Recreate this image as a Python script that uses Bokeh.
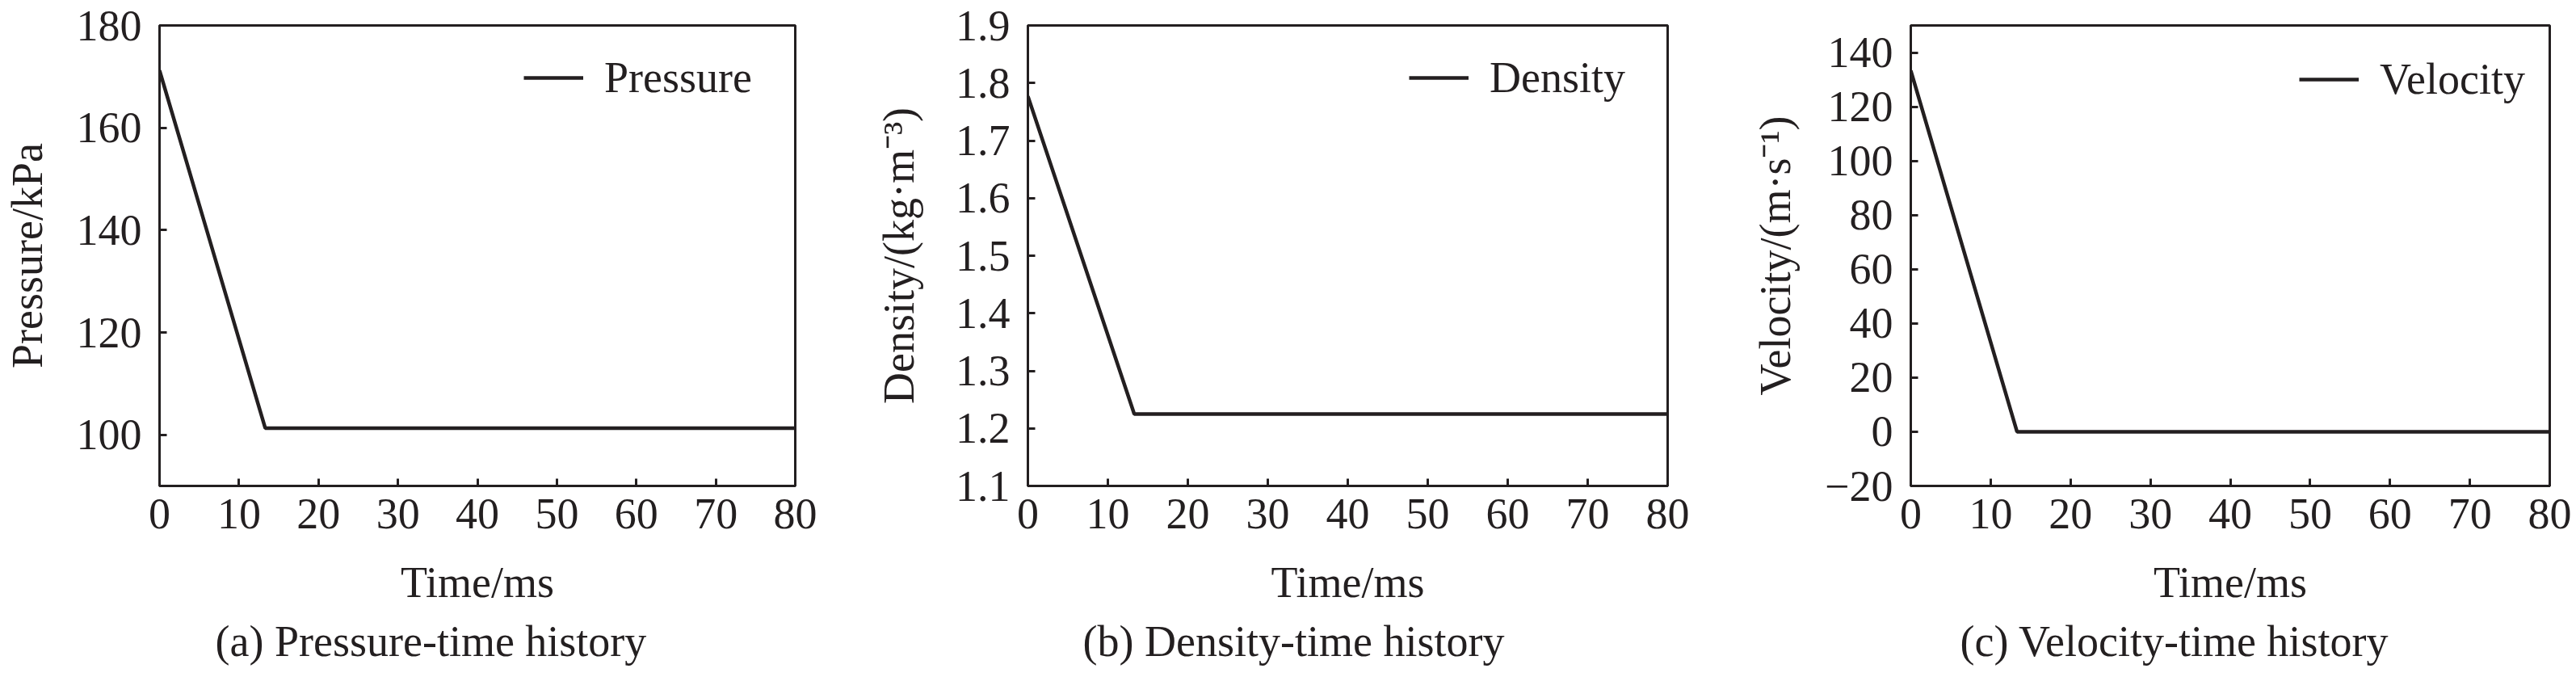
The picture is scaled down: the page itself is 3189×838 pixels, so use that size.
from bokeh.plotting import figure
from bokeh.layouts import row
from bokeh.models import FixedTicker, Legend, LegendItem, Title, PrintfTickFormatter, Range1d
from bokeh.embed import file_html
from bokeh.resources import INLINE

# ---- data ----
time_ms = [0, 13.3, 80]
pressure_kpa = [171.2, 101.3, 101.3]
density = [1.777, 1.225, 1.225]
velocity = [133.3, 0, 0]

x_ticks = [0, 10, 20, 30, 40, 50, 60, 70, 80]
p_ticks = [100, 120, 140, 160, 180]
d_ticks = [1.1, 1.2, 1.3, 1.4, 1.5, 1.6, 1.7, 1.8, 1.9]
v_ticks = [-20, 0, 20, 40, 60, 80, 100, 120, 140]

FONT = "Liberation Serif"
FS = "54px"
INK = "#231f20"
H = 836
TOP = 31
FRAME_H = 570


def make_panel(width, left, right, y, yrange, yticks, ylabel, ylab_standoff,
               name, caption, cap_offset, leg_x, leg_y, fmt=None, overrides=None):
    bottom = H - TOP - FRAME_H
    p = figure(width=width, height=H, output_backend="svg", toolbar_location=None,
               x_range=Range1d(0, 80), y_range=Range1d(*yrange),
               min_border_left=left, min_border_right=right,
               min_border_top=TOP, min_border_bottom=bottom)
    p.grid.visible = False
    p.outline_line_color = INK
    p.outline_line_width = 3
    p.background_fill_color = "white"
    p.border_fill_color = "white"

    r = p.line(time_ms, y, line_color=INK, line_width=4.5)

    for ax in (p.xaxis[0], p.yaxis[0]):
        ax.axis_line_color = INK
        ax.axis_line_width = 3
        ax.major_tick_line_color = INK
        ax.major_tick_line_width = 3
        ax.major_tick_in = 9
        ax.major_tick_out = 0
        ax.minor_tick_line_color = None
        ax.major_label_text_font = FONT
        ax.major_label_text_font_size = FS
        ax.major_label_text_color = INK
        ax.axis_label_text_font = FONT
        ax.axis_label_text_font_size = FS
        ax.axis_label_text_color = INK
        ax.axis_label_text_font_style = "normal"

    p.xaxis[0].ticker = FixedTicker(ticks=x_ticks)
    p.xaxis[0].axis_label = "Time/ms"
    p.xaxis[0].major_label_standoff = 16
    p.xaxis[0].axis_label_standoff = 34

    p.yaxis[0].ticker = FixedTicker(ticks=yticks)
    p.yaxis[0].axis_label = ylabel
    p.yaxis[0].major_label_standoff = 22
    p.yaxis[0].axis_label_standoff = ylab_standoff
    if fmt is not None:
        p.yaxis[0].formatter = fmt
    if overrides:
        p.yaxis[0].major_label_overrides = overrides

    leg = Legend(items=[LegendItem(label=name, renderers=[r])],
                 location=(leg_x, leg_y), padding=0, margin=0, spacing=0,
                 glyph_width=74, glyph_height=60, label_standoff=26,
                 label_text_font=FONT, label_text_font_size=FS,
                 label_text_color=INK, border_line_color=None,
                 background_fill_alpha=0)
    p.add_layout(leg)

    cap = Title(text=caption, align="left", offset=cap_offset, text_font=FONT,
                text_font_size=FS, text_color=INK, text_font_style="normal", standoff=16)
    p.add_layout(cap, "below")
    return p


pa = make_panel(1068, 192, 84, pressure_kpa, (90, 180), p_ticks,
                "Pressure/kPa", 28, "Pressure", "(a) Pressure-time history", 69, 451, 474)
pb = make_panel(1060, 204, 64, density, (1.1, 1.9), d_ticks,
                "Density/(kg·m⁻³)", 37, "Density", "(b) Density-time history", 68, 472, 474,
                fmt=PrintfTickFormatter(format="%.1f"))
pc = make_panel(1061, 237, 33, velocity, (-20, 150), v_ticks,
                "Velocity/(m·s⁻¹)", 28, "Velocity", "(c) Velocity-time history", 61, 481, 472,
                overrides={-20: "−20"})

layout = row(pa, pb, pc)
open("out.html", "w").write(file_html(layout, INLINE))
